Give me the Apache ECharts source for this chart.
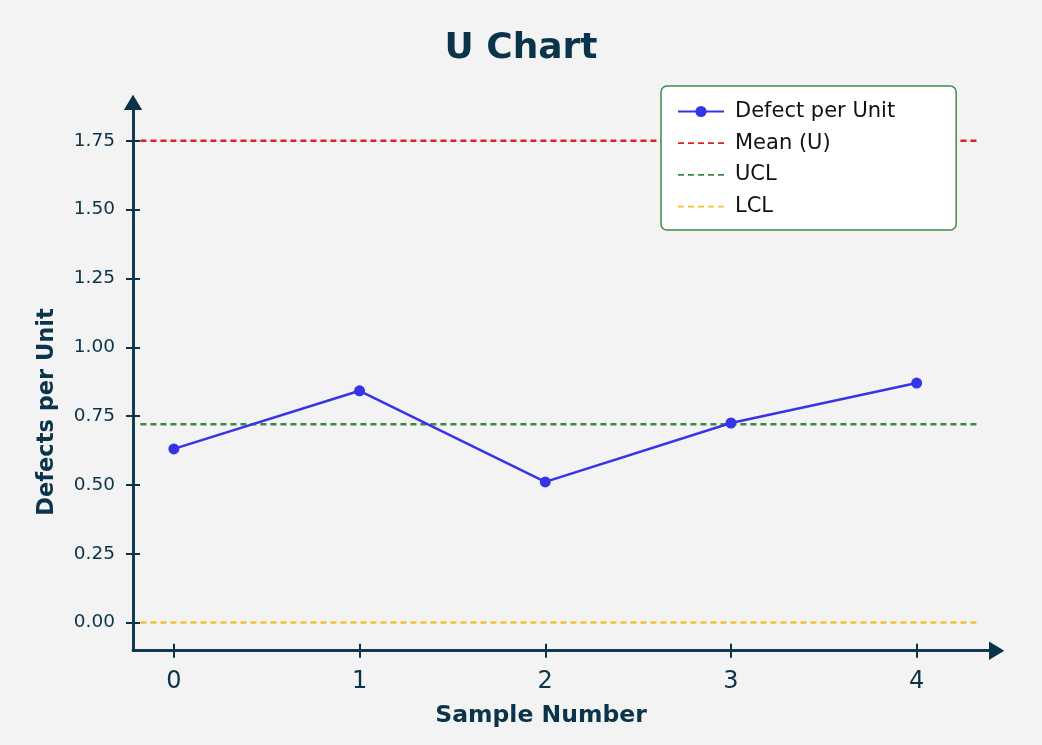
<!DOCTYPE html>
<html>
<head>
<meta charset="utf-8">
<script src="https://cdn.jsdelivr.net/npm/echarts@6/dist/echarts.min.js"></script>
<style>
html,body{margin:0;padding:0;background:#f3f3f3;}
#chart{width:1042px;height:745px;}
</style>
</head>
<body>
<div id="chart"></div>
<script>
// ---- data ----
const sampleNumbers = [0, 1, 2, 3, 4];
const defectsPerUnit = [0.631, 0.842, 0.511, 0.725, 0.870];
const meanU = 1.75;
const uclValue = 0.72;
const lclValue = 0.0;
const refLineSpan = [-0.18, 4.33];
const yTickValues = [0, 0.25, 0.5, 0.75, 1.0, 1.25, 1.5, 1.75];
const xTickValues = [0, 1, 2, 3, 4];
const xRange = [-0.22, 4.43];
const yRange = [-0.102, 1.889];

const navy = '#0b3349';
const fontFam = '"DejaVu Sans", sans-serif';

const mainLine = sampleNumbers.map((x, i) => [x, defectsPerUnit[i]]);
const refLine = v => refLineSpan.map(x => [x, v]);

function makeX(isInner) {
  return {
    type: 'value', min: xRange[0], max: xRange[1], position: 'bottom', show: true,
    axisLine: { show: true, onZero: false,
      lineStyle: { color: navy, width: 2.5 },
      symbol: ['none', 'triangle'], symbolSize: [18, 15] },
    axisTick: { show: true, inside: isInner, length: 7, customValues: xTickValues,
      lineStyle: { color: navy, width: 2 } },
    axisLabel: { show: true, customValues: xTickValues, margin: 19,
      color: isInner ? 'rgba(0,0,0,0)' : navy, fontSize: 24, fontFamily: fontFam },
    splitLine: { show: false }
  };
}
function makeY(isInner) {
  return {
    type: 'value', min: yRange[0], max: yRange[1], position: 'left', show: true,
    axisLine: { show: true, onZero: false,
      lineStyle: { color: navy, width: 2.5 },
      symbol: ['none', 'triangle'], symbolSize: [18, 15] },
    axisTick: { show: true, inside: isInner, length: 7, customValues: yTickValues,
      lineStyle: { color: navy, width: 2 } },
    axisLabel: { show: true, customValues: yTickValues, margin: 18,
      color: isInner ? 'rgba(0,0,0,0)' : navy, fontSize: 18.5, fontFamily: fontFam,
      formatter: v => v.toFixed(2) },
    splitLine: { show: false }
  };
}

const refLegendItem = name => ({ name: name, itemStyle: { opacity: 0 }, lineStyle: { width: 1.8 } });

const chart = echarts.init(document.getElementById('chart'), null, { renderer: 'canvas' });
chart.setOption({
  backgroundColor: '#f3f3f3',
  animation: false,
  title: {
    text: 'U Chart', left: 'center', top: 26,
    textStyle: { color: navy, fontSize: 36, fontWeight: 'bold', fontFamily: fontFam }
  },
  grid: { left: 133, right: 45.5, top: 102.5, bottom: 94.3, containLabel: false },
  xAxis: [makeX(false), makeX(true)],
  yAxis: [makeY(false), makeY(true)],
  graphic: [
    { type: 'text', x: 47, y: 412, rotation: Math.PI / 2, origin: [0, 0],
      style: { text: 'Defects per Unit', fill: navy, font: 'bold 22.5px ' + fontFam,
        textAlign: 'center', textVerticalAlign: 'middle' } },
    { type: 'text', x: 541, y: 716,
      style: { text: 'Sample Number', fill: navy, font: 'bold 23.5px ' + fontFam,
        textAlign: 'center', textVerticalAlign: 'middle' } }
  ],
  legend: {
    orient: 'vertical', left: 661, top: 86,
    padding: [15, 61, 13, 16],
    backgroundColor: '#ffffff', borderColor: '#3f8c4c', borderWidth: 1.5, borderRadius: 6,
    itemWidth: 46, itemHeight: 14, itemGap: 10.7,
    textStyle: { color: '#111', fontSize: 21, fontFamily: fontFam, padding: [0, 0, 0, 6] },
    data: [
      { name: 'Defect per Unit', lineStyle: { width: 2 } },
      refLegendItem('Mean (U)'),
      refLegendItem('UCL'),
      refLegendItem('LCL')
    ]
  },
  series: [
    { name: 'Mean (U)', type: 'line', data: refLine(meanU), symbol: 'none',
      xAxisIndex: 1, yAxisIndex: 1,
      lineStyle: { color: '#dd2222', width: 2.5, type: [6, 4] }, itemStyle: { color: '#dd2222' } },
    { name: 'UCL', type: 'line', data: refLine(uclValue), symbol: 'none',
      xAxisIndex: 1, yAxisIndex: 1,
      lineStyle: { color: '#3a8a44', width: 2.5, type: [6, 4] }, itemStyle: { color: '#3a8a44' } },
    { name: 'LCL', type: 'line', data: refLine(lclValue), symbol: 'none',
      xAxisIndex: 1, yAxisIndex: 1,
      lineStyle: { color: '#f2c230', width: 2.5, type: [6, 4] }, itemStyle: { color: '#f2c230' } },
    { name: 'Defect per Unit', type: 'line', data: mainLine, symbol: 'circle', symbolSize: 11,
      lineStyle: { color: '#3535e6', width: 2.5 }, itemStyle: { color: '#3535e6' }, z: 5 }
  ]
});
</script>
</body>
</html>
